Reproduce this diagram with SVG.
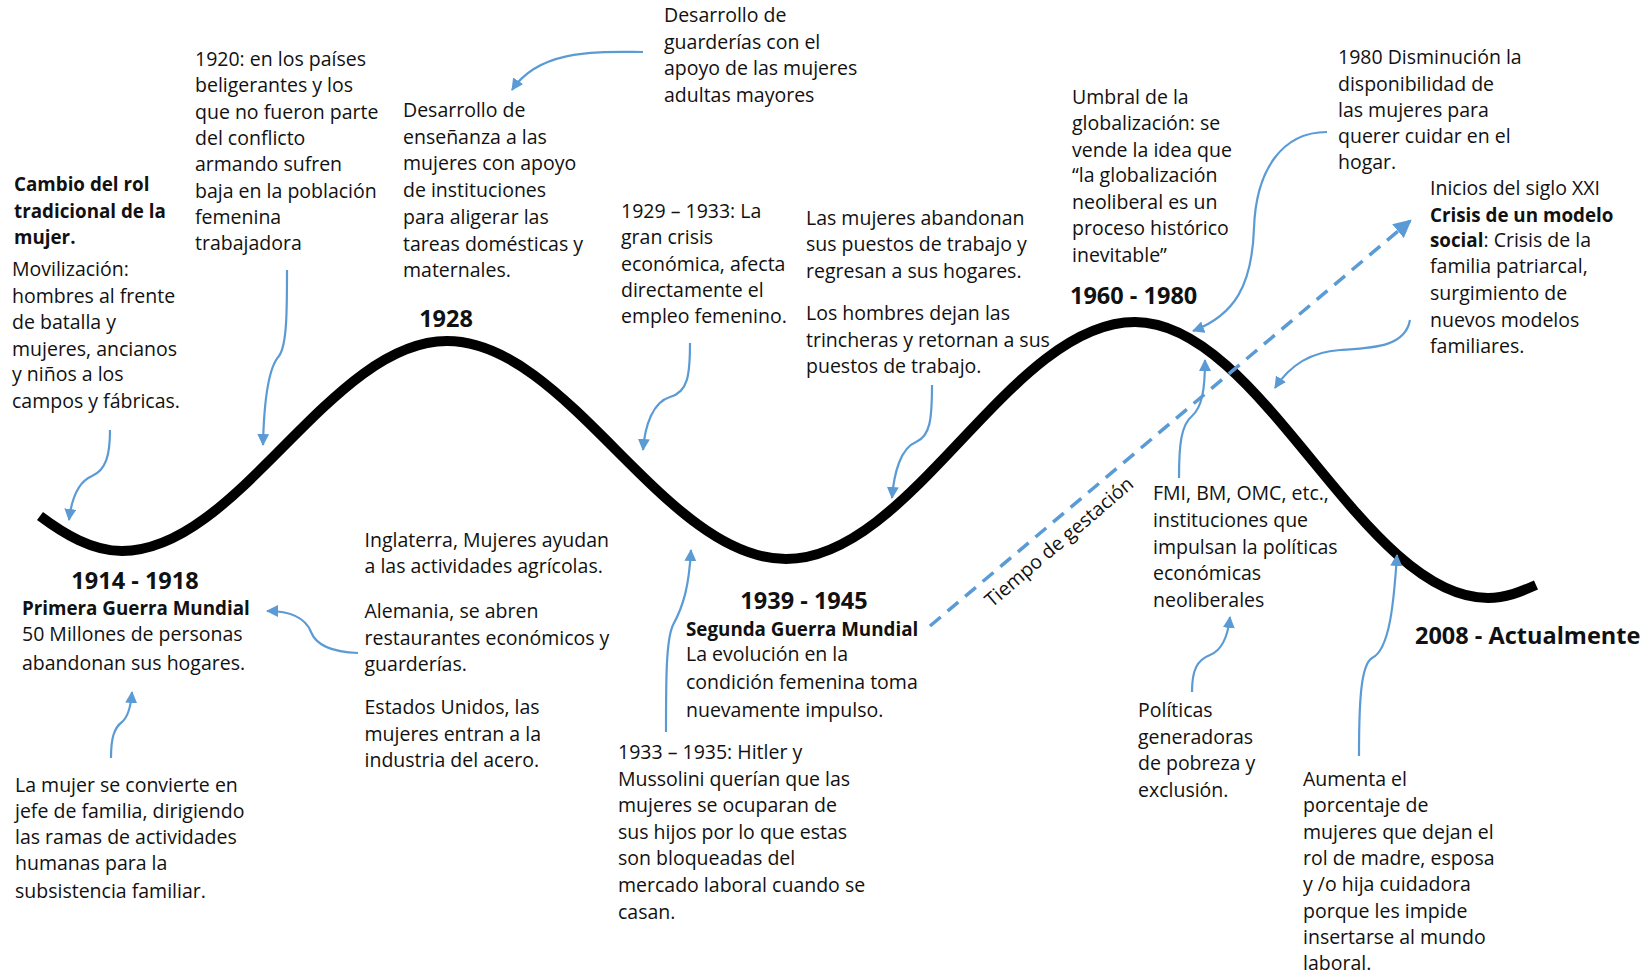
<svg xmlns="http://www.w3.org/2000/svg" width="1652" height="976" viewBox="0 0 1652 976">
<style>
text{font-family:"Open Sans","Noto Sans","Liberation Sans",sans-serif;fill:#111;}
.t{font-size:19.5px;}
.b{font-size:18.8px;font-weight:bold;}
.h{font-size:23.5px;font-weight:bold;}
.c{fill:none;stroke:#5B9BD5;stroke-width:2.2;}
.d{fill:none;stroke:#5B9BD5;stroke-width:3.5;stroke-dasharray:14 9;}
.wave{fill:none;stroke:#000;stroke-width:10;}
</style>
<defs>
<marker id="ah" viewBox="0 0 12 12" refX="11" refY="6" markerWidth="12" markerHeight="12" markerUnits="userSpaceOnUse" orient="auto"><path d="M0,0 L12,6 L0,12 z" fill="#5B9BD5"/></marker>
<marker id="ah2" viewBox="0 0 16 16" refX="14" refY="8" markerWidth="18" markerHeight="18" markerUnits="userSpaceOnUse" orient="auto"><path d="M0,0 L16,8 L0,16 z" fill="#5B9BD5"/></marker>
</defs>
<rect width="1652" height="976" fill="#fff"/>

<g id="wave">
<path class="wave" d="M40,516 C64,534 92,551 122,551 C238,551 330,341 447,341 C568,341 664,559 786,559 C912,559 1010,322 1135,322 C1262,322 1362,598 1488,598 C1506,598 1520,592 1536,585"/>
</g>

<g id="connectors">
<path class="c" marker-end="url(#ah)" d="M110,430 C110,455 106,470 92,476 C80,481 72,495 69,520"/>
<path class="c" marker-end="url(#ah)" d="M287,270 C287,310 287,345 279,356 C268,368 264,400 263,445"/>
<path class="c" marker-end="url(#ah)" d="M643,52 C600,52 540,48 512,90"/>
<path class="c" marker-end="url(#ah)" d="M690,343 C690,375 688,392 670,397 C653,402 645,425 643,450"/>
<path class="c" marker-end="url(#ah)" d="M932,385 C932,420 930,436 916,442 C901,448 894,472 892,498"/>
<path class="c" marker-end="url(#ah)" d="M1327,132 C1282,132 1256,170 1254,228 C1252,285 1235,315 1193,331"/>
<path class="c" marker-end="url(#ah)" d="M1179,478 C1179,445 1181,425 1192,416 C1202,407 1205,390 1205,360"/>
<path class="c" marker-end="url(#ah)" d="M1410,320 C1405,348 1370,348 1340,350 C1308,352 1288,368 1275,388"/>
<path class="c" marker-end="url(#ah)" d="M358,653 C330,652 316,645 311,632 C306,619 292,611 267,611"/>
<path class="c" marker-end="url(#ah)" d="M111,758 C111,738 114,728 122,722 C129,716 131,705 132,692"/>
<path class="c" marker-end="url(#ah)" d="M666,732 C666,680 666,640 673,625 C684,605 689,585 691,550"/>
<path class="c" marker-end="url(#ah)" d="M1359,756 C1359,700 1361,665 1372,658 C1390,650 1394,600 1397,555"/>
<path class="c" marker-end="url(#ah)" d="M1192,692 C1192,670 1197,660 1210,655 C1223,650 1228,635 1230,617"/>
<path class="d" marker-end="url(#ah2)" d="M930,626 L1410,221"/>
<text class="t" transform="translate(992,608) rotate(-40.5)">Tiempo de gestación</text>
</g>

<g id="n-cambio">
<text class="b" x="14" y="191">Cambio del rol</text>
<text class="b" x="14" y="218">tradicional de la</text>
<text class="b" x="14" y="244">mujer.</text>
<text class="t" x="12" y="276">Movilización:</text>
<text class="t" x="12" y="302.5">hombres al frente</text>
<text class="t" x="12" y="329">de batalla y</text>
<text class="t" x="12" y="355.5">mujeres, ancianos</text>
<text class="t" x="12" y="381">y niños a los</text>
<text class="t" x="12" y="407.5">campos y fábricas.</text>
</g>

<g id="n-1920">
<text class="t" x="195" y="66">1920: en los países</text>
<text class="t" x="195" y="92.3">beligerantes y los</text>
<text class="t" x="195" y="118.6">que no fueron parte</text>
<text class="t" x="195" y="145">del conflicto</text>
<text class="t" x="195" y="171.2">armando sufren</text>
<text class="t" x="195" y="197.5">baja en la población</text>
<text class="t" x="195" y="224">femenina</text>
<text class="t" x="195" y="250.2">trabajadora</text>
</g>

<g id="n-guarderias">
<text class="t" x="664" y="22">Desarrollo de</text>
<text class="t" x="664" y="48.5">guarderías con el</text>
<text class="t" x="664" y="75">apoyo de las mujeres</text>
<text class="t" x="664" y="101.5">adultas mayores</text>
</g>

<g id="n-ensenanza">
<text class="t" x="403" y="117">Desarrollo de</text>
<text class="t" x="403" y="143.7">enseñanza a las</text>
<text class="t" x="403" y="170.4">mujeres con apoyo</text>
<text class="t" x="403" y="197">de instituciones</text>
<text class="t" x="403" y="224">para aligerar las</text>
<text class="t" x="403" y="250.7">tareas domésticas y</text>
<text class="t" x="403" y="277.4">maternales.</text>
</g>

<g id="n-1928">
<text class="h" x="446" y="327" text-anchor="middle">1928</text>
</g>

<g id="n-1929">
<text class="t" x="621" y="218">1929 – 1933: La</text>
<text class="t" x="621" y="244.3">gran crisis</text>
<text class="t" x="621" y="270.6">económica, afecta</text>
<text class="t" x="621" y="297">directamente el</text>
<text class="t" x="621" y="323">empleo femenino.</text>
</g>

<g id="n-abandonan">
<text class="t" x="806" y="224.5">Las mujeres abandonan</text>
<text class="t" x="806" y="251">sus puestos de trabajo y</text>
<text class="t" x="806" y="277.5">regresan a sus hogares.</text>
<text class="t" x="806" y="320">Los hombres dejan las</text>
<text class="t" x="806" y="346.5">trincheras y retornan a sus</text>
<text class="t" x="806" y="373">puestos de trabajo.</text>
</g>

<g id="n-umbral">
<text class="t" x="1072" y="103.5">Umbral de la</text>
<text class="t" x="1072" y="130">globalización: se</text>
<text class="t" x="1072" y="156.5">vende la idea que</text>
<text class="t" x="1072" y="182">“la globalización</text>
<text class="t" x="1072" y="208.5">neoliberal es un</text>
<text class="t" x="1072" y="235">proceso histórico</text>
<text class="t" x="1072" y="261.5">inevitable”</text>
</g>

<g id="n-1960">
<text class="h" x="1070" y="304">1960 - 1980</text>
</g>

<g id="n-1980">
<text class="t" x="1338" y="64">1980 Disminución la</text>
<text class="t" x="1338" y="90.5">disponibilidad de</text>
<text class="t" x="1338" y="117">las mujeres para</text>
<text class="t" x="1338" y="143">querer cuidar en el</text>
<text class="t" x="1338" y="169">hogar.</text>
</g>

<g id="n-siglo">
<text class="t" x="1430" y="195">Inicios del siglo XXI</text>
<text class="b" x="1430" y="221.5">Crisis de un modelo</text>
<text class="t" x="1430" y="247"><tspan style="font-weight:bold;font-size:18.8px">social</tspan>: Crisis de la</text>
<text class="t" x="1430" y="273">familia patriarcal,</text>
<text class="t" x="1430" y="300">surgimiento de</text>
<text class="t" x="1430" y="326.5">nuevos modelos</text>
<text class="t" x="1430" y="353">familiares.</text>
</g>

<g id="n-fmi">
<text class="t" x="1153" y="500">FMI, BM, OMC, etc.,</text>
<text class="t" x="1153" y="527">instituciones que</text>
<text class="t" x="1153" y="553.5">impulsan la políticas</text>
<text class="t" x="1153" y="580">económicas</text>
<text class="t" x="1153" y="607">neoliberales</text>
</g>

<g id="n-politicas">
<text class="t" x="1138" y="717">Políticas</text>
<text class="t" x="1138" y="743.5">generadoras</text>
<text class="t" x="1138" y="770">de pobreza y</text>
<text class="t" x="1138" y="797">exclusión.</text>
</g>

<g id="n-2008">
<text class="h" x="1415" y="644">2008 - Actualmente</text>
</g>

<g id="n-aumenta">
<text class="t" x="1303" y="786">Aumenta el</text>
<text class="t" x="1303" y="812">porcentaje de</text>
<text class="t" x="1303" y="838.5">mujeres que dejan el</text>
<text class="t" x="1303" y="865">rol de madre, esposa</text>
<text class="t" x="1303" y="891">y /o hija cuidadora</text>
<text class="t" x="1303" y="917.5">porque les impide</text>
<text class="t" x="1303" y="943.5">insertarse al mundo</text>
<text class="t" x="1303" y="970">laboral.</text>
</g>

<g id="n-1933">
<text class="t" x="618" y="759">1933 – 1935: Hitler y</text>
<text class="t" x="618" y="786">Mussolini querían que las</text>
<text class="t" x="618" y="812">mujeres se ocuparan de</text>
<text class="t" x="618" y="839">sus hijos por lo que estas</text>
<text class="t" x="618" y="865">son bloqueadas del</text>
<text class="t" x="618" y="892">mercado laboral cuando se</text>
<text class="t" x="618" y="918.5">casan.</text>
</g>

<g id="n-1939">
<text class="h" x="804" y="609" text-anchor="middle">1939 - 1945</text>
<text class="b" x="686" y="636">Segunda Guerra Mundial</text>
<text class="t" x="686" y="661">La evolución en la</text>
<text class="t" x="686" y="689">condición femenina toma</text>
<text class="t" x="686" y="717">nuevamente impulso.</text>
</g>

<g id="n-paises">
<text class="t" x="364.5" y="547">Inglaterra, Mujeres ayudan</text>
<text class="t" x="364.5" y="573">a las actividades agrícolas.</text>
<text class="t" x="364.5" y="618">Alemania, se abren</text>
<text class="t" x="364.5" y="645">restaurantes económicos y</text>
<text class="t" x="364.5" y="671">guarderías.</text>
<text class="t" x="364.5" y="714">Estados Unidos, las</text>
<text class="t" x="364.5" y="741">mujeres entran a la</text>
<text class="t" x="364.5" y="767">industria del acero.</text>
</g>

<g id="n-1914">
<text class="h" x="135" y="589" text-anchor="middle">1914 - 1918</text>
<text class="b" x="22" y="615">Primera Guerra Mundial</text>
<text class="t" x="22" y="641">50 Millones de personas</text>
<text class="t" x="22" y="670">abandonan sus hogares.</text>
</g>

<g id="n-mujer">
<text class="t" x="15" y="792">La mujer se convierte en</text>
<text class="t" x="15" y="818">jefe de familia, dirigiendo</text>
<text class="t" x="15" y="844">las ramas de actividades</text>
<text class="t" x="15" y="870">humanas para la</text>
<text class="t" x="15" y="898">subsistencia familiar.</text>
</g>
</svg>
